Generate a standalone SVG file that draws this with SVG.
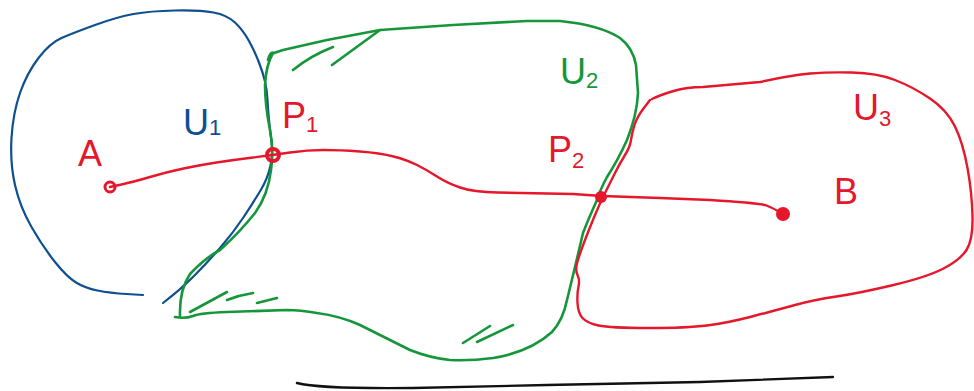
<svg xmlns="http://www.w3.org/2000/svg" width="974" height="391" viewBox="0 0 974 391">
<style>
.stroke{fill:none;stroke-linecap:round;stroke-linejoin:round}
.blue{stroke:#0e4f8f;stroke-width:2.2}
.green{stroke:#16963a;stroke-width:2.6}
.red{stroke:#e5172b;stroke-width:2.4}
.lbl{font-family:"Liberation Sans","DejaVu Sans",sans-serif;font-size:36px}
.sub{font-size:22px}
.tr{fill:#e5172b}
.tb{fill:#0e4f8f}
.tg{fill:#16963a}
</style>
<rect width="974" height="391" fill="#fff"/>
<g id="U1">
<path class="stroke blue" d="M143,295 L126.5,294 Q110,293 97.5,290.5 Q85,288 76,282.5 Q67,277 55,262 Q43,247 31.5,227 Q20,207 15,185 Q10,163 11.5,138 Q13,113 20,93 Q27,73 38.5,58 Q50,43 61.5,38 Q73,33 95,25 Q117,17 133.5,14 Q150,11 175,10.5 Q200,10 213.5,12.5 Q227,15 235,22.5 Q243,30 249,41 Q255,52 259,62.5 Q263,73 265,81.5 Q267,90 267.5,100 Q268,110 269,120 Q270,130 271.5,141.5 Q273,153 270.5,165.5 Q268,178 260.5,190.5 Q253,203 243,218 Q233,233 220,248 Q207,263 193.5,276.5 Q180,290 163,303"/>
<text class="lbl tb" x="183" y="135" font-size="30">U<tspan class="sub">1</tspan></text>
</g>
<g id="U2">
<path class="stroke green" d="M268,60 Q270,51 274,53 L283,50 L327,40 L380,30 L453,25 L527,21 L560,21 Q600,25 620,38 Q633,48 636,65 L638,93 Q637,115 627,140 Q618,160 607,177 Q600,190 597,200 Q588,220 583,233 L575,267 L567,300 Q563,320 552,332 Q530,352 493,358 Q470,361 450,360 Q430,358 410,350 Q380,335 360,325 Q340,316 317,313 Q300,310 287,310 L227,312 Q200,313 193,316 Q185,319 175,317 M180,317 Q179,290 190,274 Q205,258 220,250 Q240,232 255,213 Q268,195 271,170 Q274,150 270,130 Q265,105 265,85 Q266,65 273,53"/>
<path class="stroke green" d="M293,70 Q310,56 333,47 M332,65 L380,30 M190,312 L227,292 M227,300 Q240,295 253,293 M257,303 L277,298 M463,343 L490,326 M477,342 L513,325"/>
<text class="lbl tg" x="560" y="84" font-size="32">U<tspan class="sub" dy="4">2</tspan></text>
</g>
<g id="U3">
<path class="stroke red" d="M652,99 Q660,95 673.5,91 Q687,87 703,87 L760,82 Q793,75 810,73.5 Q827,72 852,72.5 Q877,73 895,80 Q913,87 930,98.5 Q947,110 955,126.5 Q963,143 967.5,168 Q972,193 972.5,216.5 Q973,240 966.5,250 Q960,260 943.5,268.5 Q927,277 893.5,285 Q860,293 836.5,296.5 Q813,300 795,305 Q777,310 752,316.5 Q727,323 707,325.5 Q687,328 648.5,328 Q610,328 598.5,325.5 Q587,323 582.5,318 Q578,313 577.5,303 Q577,293 578.5,286.5 Q580,280 577.5,275 Q575,270 577.5,261.5 Q580,253 585,240 Q590,227 595,215 Q600,203 605,193 Q610,183 615,173 Q620,163 625,155 Q630,147 631,140 Q632,133 634.5,125 Q637,117 643.5,108.5 L650,100"/>
<text class="lbl tr" x="853" y="120" font-size="30">U<tspan class="sub" dy="6">3</tspan></text>
</g>
<g id="connectors">
<path class="stroke red" d="M110,187 L121.5,184.5 Q133,182 150,177 Q167,172 183.5,168.5 Q200,165 216.5,162.5 Q233,160 253,157.5 Q273,155 290,152.5 Q307,150 323.5,150 Q340,150 360,151.5 Q380,153 393.5,156.5 Q407,160 417,165 Q427,170 437,176.5 Q447,183 460,187.5 Q473,192 498,192.5 L573,194 L602,196 L660,198 L710,200 Q760,203 766.5,205.5 Q773,208 783,214"/>
</g>
<g id="A">
<circle cx="110" cy="187" r="5" fill="none" stroke="#e5172b" stroke-width="3"/>
<text class="lbl tr" x="78" y="166">A</text>
</g>
<g id="P1">
<circle cx="273" cy="155" r="6" fill="none" stroke="#e5172b" stroke-width="4"/>
<text class="lbl tr" x="282" y="128" font-size="32">P<tspan class="sub" dy="4">1</tspan></text>
</g>
<g id="P2">
<circle cx="601" cy="197" r="6" fill="#e5172b"/>
<text class="lbl tr" x="548" y="162" font-size="32">P<tspan class="sub" dy="6">2</tspan></text>
</g>
<g id="B">
<circle cx="783" cy="214" r="7" fill="#e5172b"/>
<text class="lbl tr" x="834" y="204" font-size="32">B</text>
</g>
<path class="stroke" stroke="#111" stroke-width="2.4" d="M297,383 Q320,389 413,388 L547,385 L700,382 L833,377"/>
</svg>
